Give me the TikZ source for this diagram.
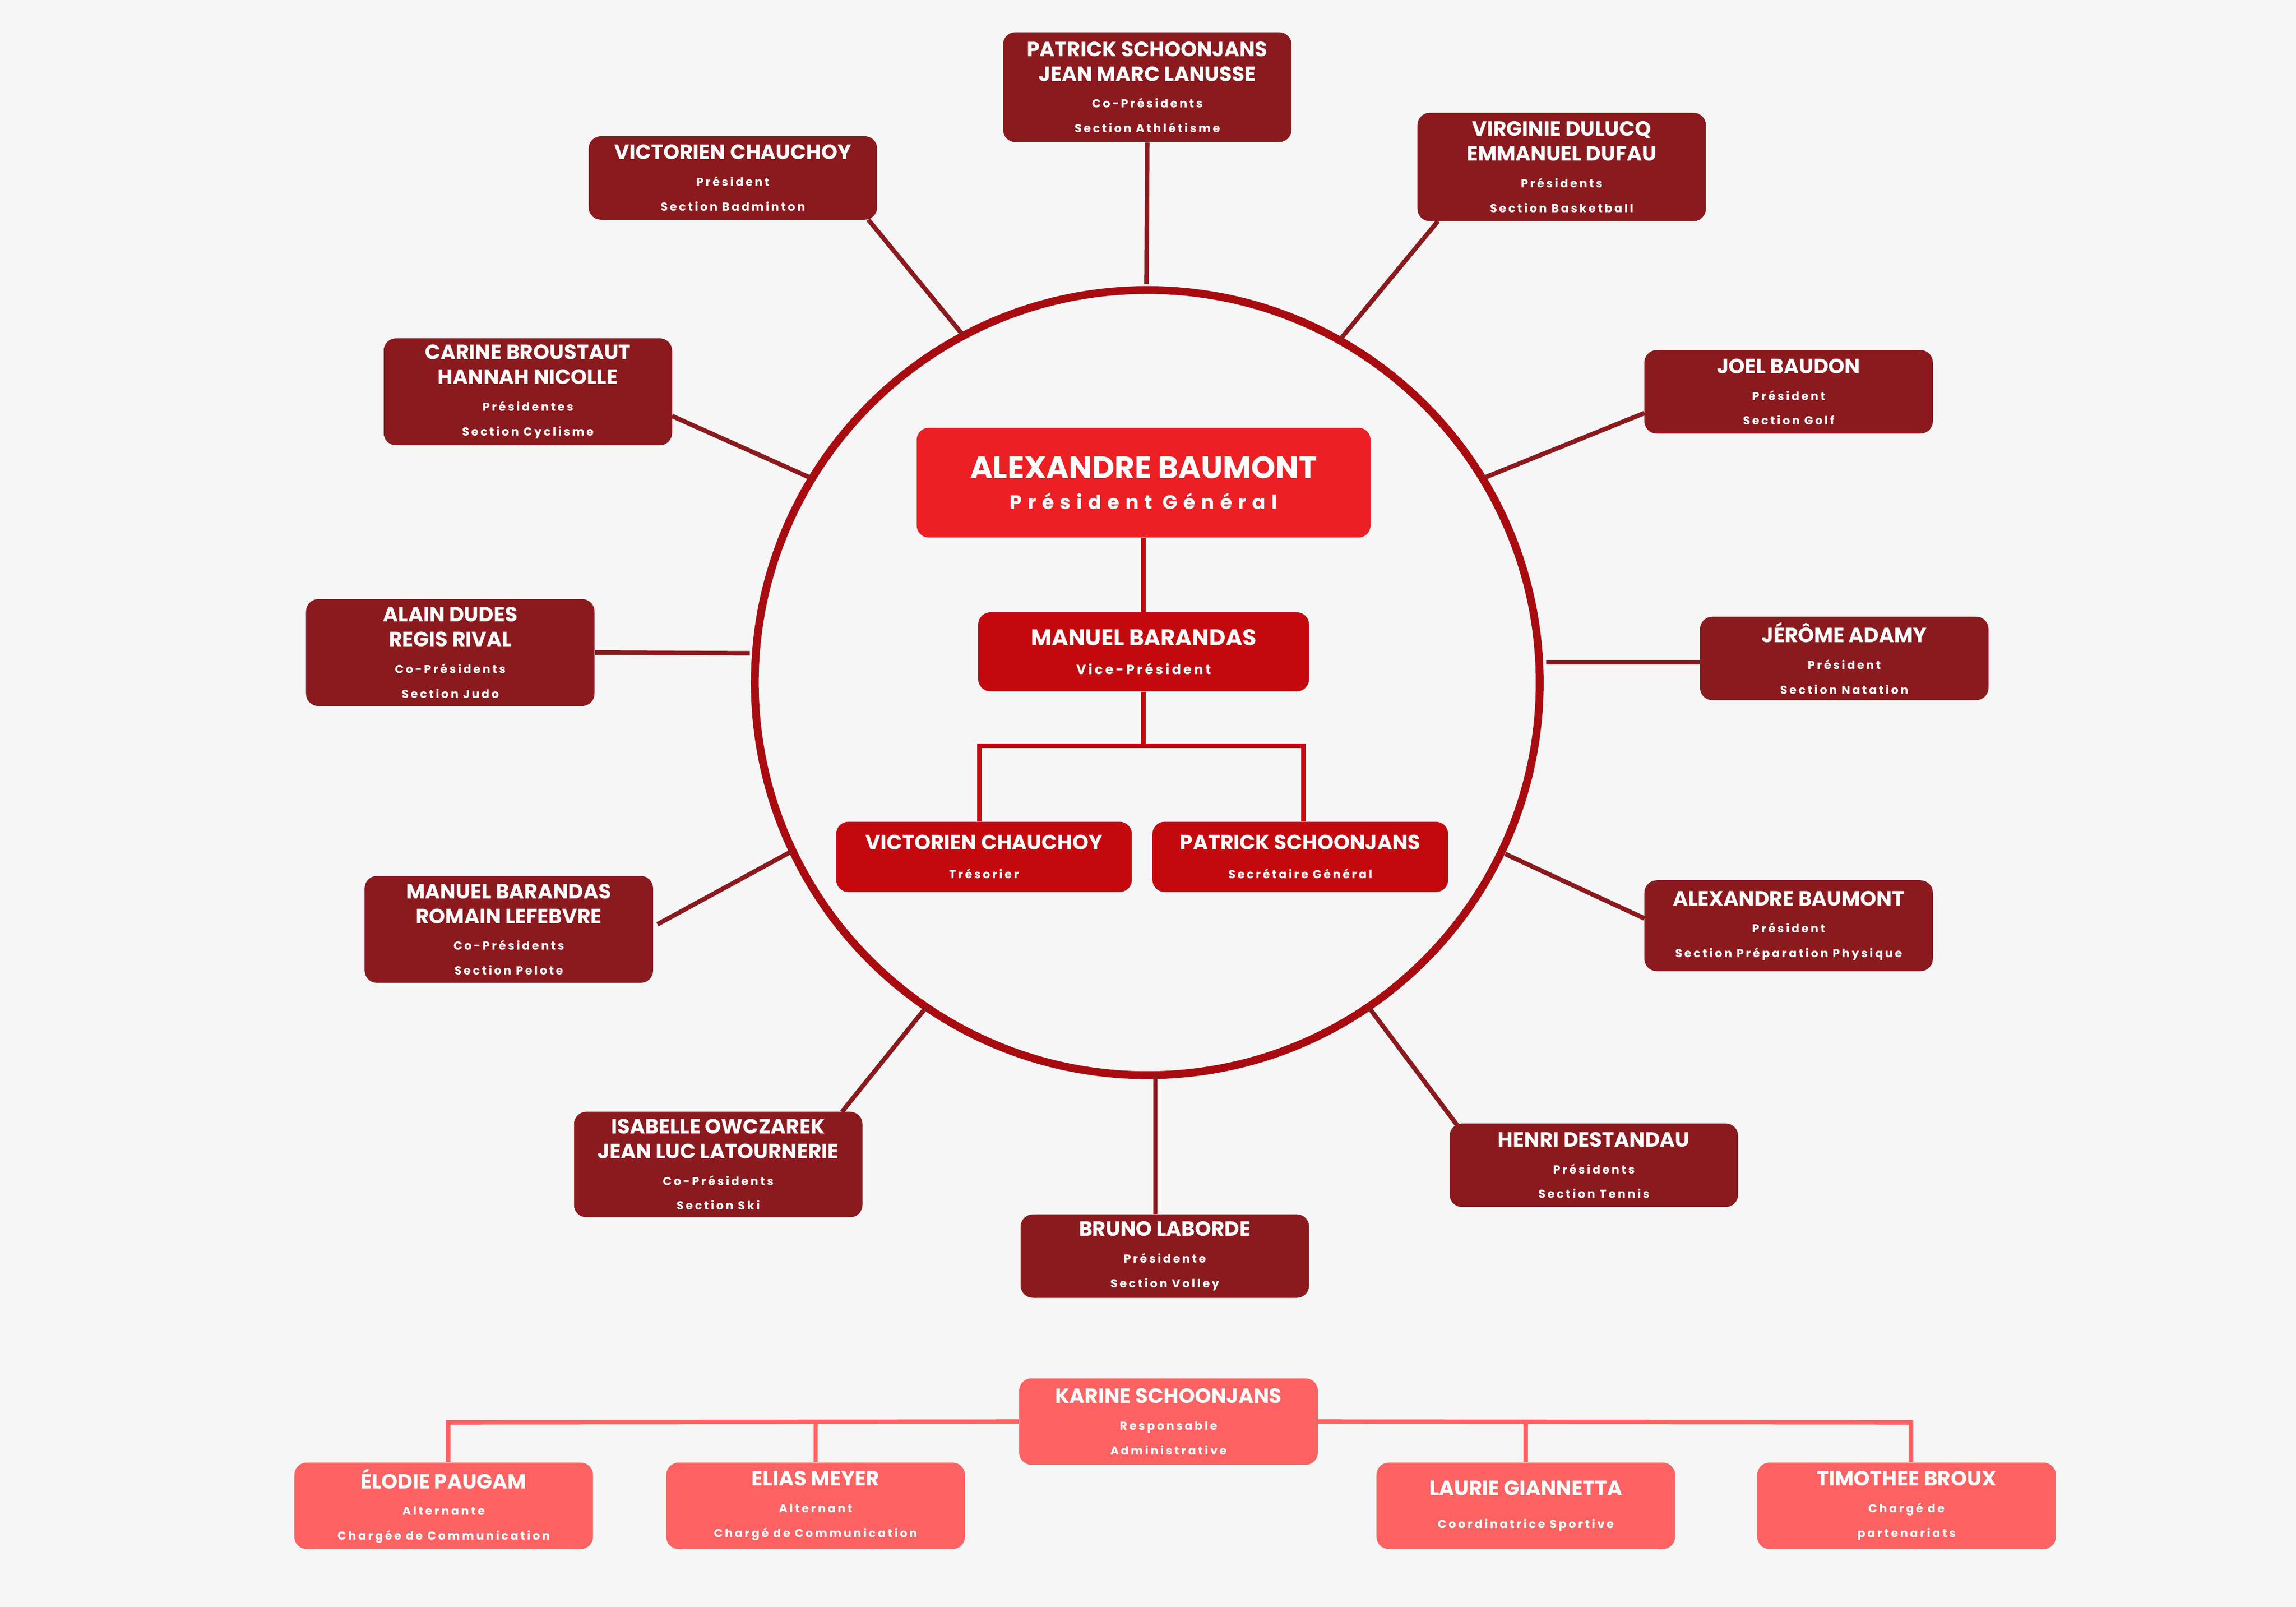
\documentclass[tikz,border=0pt]{standalone}
\usepackage{fontspec}
\setmainfont{Poppins}
\definecolor{bg}{HTML}{F6F6F6}
\definecolor{dk}{HTML}{8B1A1E}
\definecolor{ring}{HTML}{A80B10}
\definecolor{top}{HTML}{EC1F24}
\definecolor{mid}{HTML}{C4090E}
\definecolor{lt}{HTML}{FF6262}
\newcommand\nm[1]{{\fontsize{10}{12.5}\selectfont\bfseries #1}}
\newcommand\sbt[1]{{\fontsize{5.6}{7.6}\selectfont\addfontfeature{LetterSpace=18}\bfseries #1}}
\tikzset{
 box/.style={rounded corners=6pt, text=white, align=center, inner sep=0pt},
 dbox/.style={box, fill=dk, minimum width={197*0.025cm}},
 lbox/.style={box, fill=lt, minimum width={204*0.025cm}, minimum height={59*0.025cm}},
 spoke/.style={draw=dk, line width=2.2pt},
 inner/.style={draw=mid, line width=2.2pt},
 blink/.style={draw=lt, line width=2.2pt},
}
\begin{document}
\begin{tikzpicture}[x=0.025cm,y=-0.025cm]
\fill[bg] (0,0) rectangle (1568,1097);
\useasboundingbox (0,0) rectangle (1568,1097);
\draw[ring, line width=3.8pt] (783.5,466) circle[radius={268*0.025cm}];
% outer boxes
\node[dbox, minimum height={75*0.025cm}] (ath) at (783.5,59.5) {\nm{PATRICK SCHOONJANS}\\\nm{JEAN MARC LANUSSE}\\[1pt]\sbt{Co-Présidents}\\\sbt{Section Athlétisme}};
\node[dbox, minimum height={57*0.025cm}] (bad) at (500.5,121.5) {\nm{VICTORIEN CHAUCHOY}\\[1pt]\sbt{Président}\\\sbt{Section Badminton}};
\node[dbox, minimum height={74*0.025cm}] (bas) at (1066.5,114) {\nm{VIRGINIE DULUCQ}\\\nm{EMMANUEL DUFAU}\\[1pt]\sbt{Présidents}\\\sbt{Section Basketball}};
\node[dbox, minimum height={57*0.025cm}] (gol) at (1221.5,267.5) {\nm{JOEL BAUDON}\\[1pt]\sbt{Président}\\\sbt{Section Golf}};
\node[dbox, minimum height={73*0.025cm}] (cyc) at (360.5,267.5) {\nm{CARINE BROUSTAUT}\\\nm{HANNAH NICOLLE}\\[1pt]\sbt{Présidentes}\\\sbt{Section Cyclisme}};
\node[dbox, minimum height={73*0.025cm}] (jud) at (307.5,445.5) {\nm{ALAIN DUDES}\\\nm{REGIS RIVAL}\\[1pt]\sbt{Co-Présidents}\\\sbt{Section Judo}};
\node[dbox, minimum height={57*0.025cm}] (nat) at (1259.5,449.5) {\nm{JÉRÔME ADAMY}\\[1pt]\sbt{Président}\\\sbt{Section Natation}};
\node[dbox, minimum height={73*0.025cm}] (pel) at (347.5,634.5) {\nm{MANUEL BARANDAS}\\\nm{ROMAIN LEFEBVRE}\\[1pt]\sbt{Co-Présidents}\\\sbt{Section Pelote}};
\node[dbox, minimum height={62*0.025cm}] (pre) at (1221.5,632) {\nm{ALEXANDRE BAUMONT}\\[1pt]\sbt{Président}\\\sbt{Section Préparation Physique}};
\node[dbox, minimum height={72*0.025cm}] (ski) at (490.5,795) {\nm{ISABELLE OWCZAREK}\\\nm{JEAN LUC LATOURNERIE}\\[1pt]\sbt{Co-Présidents}\\\sbt{Section Ski}};
\node[dbox, minimum height={57*0.025cm}] (ten) at (1088.5,795.5) {\nm{HENRI DESTANDAU}\\[1pt]\sbt{Présidents}\\\sbt{Section Tennis}};
\node[dbox, minimum height={57*0.025cm}] (vol) at (795.5,857.5) {\nm{BRUNO LABORDE}\\[1pt]\sbt{Présidente}\\\sbt{Section Volley}};
% circle points
\coordinate (cath) at (783,194);
\coordinate (cbad) at (657,228);
\coordinate (cbas) at (915,232);
\coordinate (cgol) at (1014,326);
\coordinate (ccyc) at (553,326);
\coordinate (cjud) at (512,446);
\coordinate (cnat) at (1056,452);
\coordinate (cpel) at (541,581);
\coordinate (cpre) at (1028,583);
\coordinate (cski) at (633,687);
\coordinate (cten) at (935,688);
\coordinate (cvol) at (789,733);
\coordinate (ebad) at (593,150);
\coordinate (ebas) at (982,151);
\coordinate (egol) at (1123,282);
\coordinate (ecyc) at (459,284);
\coordinate (epel) at (449,631);
\coordinate (epre) at (1123,627);
\coordinate (eski) at (575,759);
\coordinate (eten) at (995,768);
\draw[spoke] (ath.south) -- (cath);
\draw[spoke] (ebad) -- (cbad);
\draw[spoke] (ebas) -- (cbas);
\draw[spoke] (egol) -- (cgol);
\draw[spoke] (ecyc) -- (ccyc);
\draw[spoke] (jud.east) -- (cjud);
\draw[spoke] (nat.west |- cnat) -- (cnat);
\draw[spoke] (epel) -- (cpel);
\draw[spoke] (epre) -- (cpre);
\draw[spoke] (eski) -- (cski);
\draw[spoke] (eten) -- (cten);
\draw[spoke] (cvol |- vol.north) -- (cvol);
% inner
\node[box, fill=top, minimum width={310*0.025cm}, minimum height={75*0.025cm}] (pg) at (781,329.5) {{\fontsize{15}{19}\selectfont\bfseries ALEXANDRE BAUMONT}\\[3pt]{\fontsize{9.5}{11}\selectfont\addfontfeature{LetterSpace=30}\bfseries Président Général}};
\node[box, fill=mid, minimum width={226*0.025cm}, minimum height={54*0.025cm}] (vp) at (781,445) {{\fontsize{11}{13}\selectfont\bfseries MANUEL BARANDAS}\\[2pt]{\fontsize{6.5}{8}\selectfont\addfontfeature{LetterSpace=18}\bfseries Vice-Président}};
\node[box, fill=mid, minimum width={202*0.025cm}, minimum height={48*0.025cm}] (tr) at (672,585) {\nm{VICTORIEN CHAUCHOY}\\[2pt]\sbt{Trésorier}};
\node[box, fill=mid, minimum width={202*0.025cm}, minimum height={48*0.025cm}] (sg) at (888,585) {\nm{PATRICK SCHOONJANS}\\[2pt]\sbt{Secrétaire Général}};
\coordinate (j) at (781,509);
\coordinate (jl) at (669,509);
\coordinate (jr) at (890,509);
\draw[inner] (pg.south) -- (vp.north);
\draw[inner] (vp.south) -- (j);
\draw[inner] (jl |- tr.north) -- (jl) -- (jr) -- (jr |- sg.north);
% bottom
\node[lbox] (kar) at (798,970.5) {\nm{KARINE SCHOONJANS}\\[1pt]\sbt{Responsable}\\\sbt{Administrative}};
\node[lbox] (elo) at (303,1028) {\nm{ÉLODIE PAUGAM}\\[1pt]\sbt{Alternante}\\\sbt{Chargée de Communication}};
\node[lbox] (eli) at (557,1028) {\nm{ELIAS MEYER}\\[1pt]\sbt{Alternant}\\\sbt{Chargé de Communication}};
\node[lbox] (lau) at (1042,1028) {\nm{LAURIE GIANNETTA}\\[4pt]\sbt{Coordinatrice Sportive}};
\node[lbox] (tim) at (1302,1028) {\nm{TIMOTHEE BROUX}\\[1pt]\sbt{Chargé de}\\\sbt{partenariats}};
\coordinate (bl) at (306,971);
\coordinate (br) at (1305,971);
\draw[blink] (bl |- elo.north) -- (bl) -- (kar.west);
\draw[blink] (kar.east) -- (br) -- (br |- tim.north);
\draw[blink] (eli.north |- bl) -- (eli.north);
\draw[blink] (lau.north |- bl) -- (lau.north);
\end{tikzpicture}
\end{document}
